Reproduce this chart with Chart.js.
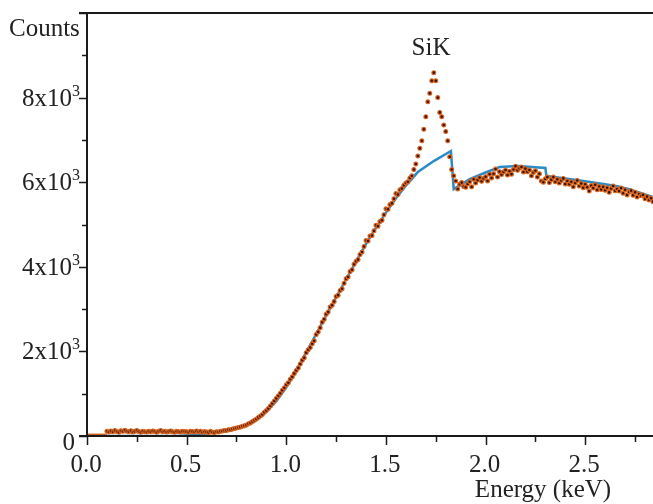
<!DOCTYPE html>
<html>
<head>
<meta charset="utf-8">
<script src="https://cdn.jsdelivr.net/npm/chart.js@4"></script>
<style>
  body { margin: 0; background: #fff; }
  canvas { display: block; }
</style>
</head>
<body>
<canvas id="spectrum" width="653" height="504"></canvas>
<script>
// ============================================
// Data
// ============================================

// channel calibration of the measured spectrum (keV)
const CHANNEL_START = 0.0;
const CHANNEL_WIDTH = 0.01;

// measured counts, one value per channel (0.00 .. 2.84 keV)
const measuredCounts = [
    0, 0, 0, 0, 0, 0, 0, 0, 0, 0,
    110, 95, 120, 100, 130, 105, 90, 125, 110, 135,
    115, 100, 125, 95, 110, 130, 105, 90, 115, 100,
    95, 110, 100, 120, 105, 90, 115, 130, 100, 110,
    95, 105, 120, 100, 90, 110, 100, 95, 115, 105,
    100, 90, 115, 105, 95, 120, 100, 110, 90, 105,
    95, 85, 110, 90, 80, 100, 95, 110, 120, 130,
    130, 150, 145, 165, 175, 190, 200, 215, 230, 245,
    260, 290, 310, 340, 370, 400, 440, 470, 510, 560,
    600, 650, 710, 770, 830, 890, 950, 1010, 1080, 1140,
    1210, 1260, 1340, 1400, 1480, 1550, 1610, 1700, 1790, 1850,
    1970, 2040, 2090, 2180, 2250, 2400, 2460, 2560, 2690, 2760,
    2880, 2930, 3050, 3090, 3180, 3300, 3330, 3440, 3480, 3610,
    3720, 3760, 3890, 3930, 4060, 4130, 4170, 4290, 4350, 4480,
    4620, 4610, 4730, 4740, 4850, 4980, 4960, 5070, 5100, 5230,
    5370, 5360, 5470, 5500, 5610, 5730, 5710, 5820, 5850, 5930,
    5980, 6010, 6100, 6150, 6300, 6430, 6620, 6800, 6980, 7250,
    7550, 7900, 8100, 8400, 8590, 8400, 8000, 7650, 7550, 7350,
    7200, 6980, 6600, 6300, 6150, 6030, 5840, 5950, 5990, 5900,
    5880, 5960, 6010, 5890, 6070, 5980, 6050, 6110, 6020, 6090,
    6130, 6030, 6190, 6100, 6200, 6310, 6120, 6250, 6180, 6240,
    6290, 6170, 6260, 6190, 6300, 6380, 6280, 6330, 6360, 6240,
    6320, 6250, 6290, 6150, 6230, 6270, 6120, 6200, 6030, 6000,
    6080, 6120, 5990, 6060, 6120, 6010, 6070, 5980, 6040, 6090,
    5960, 6030, 5950, 6010, 5890, 5980, 6040, 5910, 5970, 5870,
    5950, 5880, 5790, 5920, 5860, 5940, 5820, 5900, 5830, 5890,
    5810, 5870, 5760, 5850, 5910, 5800, 5840, 5790, 5860, 5740,
    5820, 5700, 5770, 5800, 5690, 5760, 5650, 5720, 5680, 5700,
    5610, 5660, 5580, 5620, 5540
];

// fitted background (blue line)
const fitEnergy = [0.00, 0.45, 0.55, 0.60, 0.65, 0.70, 0.75, 0.80, 0.85, 0.90, 0.95,
    1.00, 1.05, 1.10, 1.15, 1.20, 1.25, 1.30, 1.35, 1.40, 1.45, 1.50, 1.55, 1.60,
    1.66, 1.74, 1.826, 1.84, 1.92, 2.00, 2.07, 2.16, 2.30, 2.305, 2.40, 2.49,
    2.60, 2.66, 2.72, 2.84];
const fitCounts = [0, 0, 30, 60, 90, 130, 170, 270, 400, 580, 820,
    1150, 1550, 1980, 2410, 2850, 3280, 3700, 4120, 4540, 4920, 5280, 5620, 5920,
    6240, 6500, 6738, 5836, 6074, 6230, 6358, 6382, 6335, 6145, 6090, 6026,
    5950, 5907, 5836, 5646];

// axis ticks
const xMajorTicks = [0.0, 0.5, 1.0, 1.5, 2.0, 2.5];
const xTickLabels = ['0.0', '0.5', '1.0', '1.5', '2.0', '2.5'];
const xMinorTicks = [0.25, 0.75, 1.25, 1.75, 2.25, 2.75];
const yMajorTicks = [0, 2000, 4000, 6000, 8000, 10000];
const yTickMantissa = ['0', '2', '4', '6', '8'];
const yMinorTicks = [1000, 3000, 5000, 7000, 9000];

// ============================================
// Styles
// ============================================

const SERIF = '"Liberation Serif", "DejaVu Serif", serif';
const AXIS_COLOR = '#1a1a1a';
const TEXT_COLOR = '#222';

// ============================================
// Axis plugin: frame, outward ticks, labels
// ============================================

const axisPlugin = {
    id: 'spectrumAxes',
    afterDatasetsDraw(chart) {
        const ctx = chart.ctx;
        const xs = chart.scales.x;
        const ys = chart.scales.y;
        const area = chart.chartArea;

        ctx.save();
        ctx.strokeStyle = AXIS_COLOR;
        ctx.lineWidth = 2;

        // axis lines + top border
        ctx.beginPath();
        ctx.moveTo(area.left - 8, area.bottom);
        ctx.lineTo(area.right, area.bottom);
        ctx.moveTo(area.left, area.bottom);
        ctx.lineTo(area.left, area.top);
        ctx.moveTo(area.left - 8, area.top);
        ctx.lineTo(area.right, area.top);
        ctx.stroke();

        // x ticks
        ctx.lineWidth = 1.5;
        ctx.beginPath();
        xMajorTicks.forEach(v => {
            const px = Math.round(xs.getPixelForValue(v)) + 0.5;
            ctx.moveTo(px, area.bottom);
            ctx.lineTo(px, area.bottom + 9);
        });
        xMinorTicks.forEach(v => {
            const px = Math.round(xs.getPixelForValue(v)) + 0.5;
            ctx.moveTo(px, area.bottom);
            ctx.lineTo(px, area.bottom + 6);
        });
        // y ticks
        yMajorTicks.forEach(v => {
            const py = Math.round(ys.getPixelForValue(v)) + 0.5;
            ctx.moveTo(area.left, py);
            ctx.lineTo(area.left - 8, py);
        });
        yMinorTicks.forEach(v => {
            const py = Math.round(ys.getPixelForValue(v)) + 0.5;
            ctx.moveTo(area.left, py);
            ctx.lineTo(area.left - 5, py);
        });
        ctx.stroke();

        // x tick labels
        ctx.fillStyle = TEXT_COLOR;
        ctx.font = '25px ' + SERIF;
        ctx.textAlign = 'center';
        ctx.textBaseline = 'alphabetic';
        xMajorTicks.forEach((v, i) => {
            ctx.fillText(xTickLabels[i], xs.getPixelForValue(v) - 1, area.bottom + 36);
        });

        // y tick labels (mantissa x 10^3)
        ctx.textAlign = 'right';
        yTickMantissa.forEach((m, i) => {
            const py = ys.getPixelForValue(yMajorTicks[i]);
            if (i === 0) {
                ctx.font = '25px ' + SERIF;
                ctx.fillText(m, area.left - 12, py + 14);
                return;
            }
            ctx.font = '16px ' + SERIF;
            ctx.fillText('3', area.left - 7, py - 2);
            const supW = ctx.measureText('3').width;
            ctx.font = '25px ' + SERIF;
            ctx.fillText(m + 'x10', area.left - 7 - supW, py + 8);
        });

        // axis titles and peak label
        ctx.font = '25px ' + SERIF;
        ctx.textAlign = 'left';
        ctx.fillText('Counts', 9, 36);
        ctx.textAlign = 'center';
        ctx.fillText('Energy (keV)', 543, 497);
        ctx.fillText('SiK', 431, 55);
        ctx.restore();
    }
};

// ============================================
// Chart
// ============================================

const measuredPoints = measuredCounts.map((c, i) => ({
    x: CHANNEL_START + i * CHANNEL_WIDTH,
    y: c
}));
const fitPoints = fitEnergy.map((e, i) => ({ x: e, y: fitCounts[i] }));

new Chart(document.getElementById('spectrum'), {
    type: 'line',
    data: {
        datasets: [
            {
                label: 'measured',
                data: measuredPoints,
                showLine: false,
                pointRadius: 1.9,
                pointBorderWidth: 1.2,
                pointBackgroundColor: '#3d1206',
                pointBorderColor: '#d8651f',
                order: 0
            },
            {
                label: 'fit',
                data: fitPoints,
                borderColor: '#2a8bc6',
                borderWidth: 2.5,
                pointRadius: 0,
                tension: 0,
                order: 1
            }
        ]
    },
    options: {
        responsive: false,
        animation: false,
        events: [],
        layout: {
            autoPadding: false,
            padding: { left: 87, top: 13, right: 0, bottom: 68 }
        },
        scales: {
            x: { type: 'linear', min: 0, max: 2.84, display: false },
            y: { type: 'linear', min: 0, max: 10000, display: false }
        },
        plugins: {
            legend: { display: false },
            tooltip: { enabled: false }
        }
    },
    plugins: [axisPlugin]
});
</script>
</body>
</html>
